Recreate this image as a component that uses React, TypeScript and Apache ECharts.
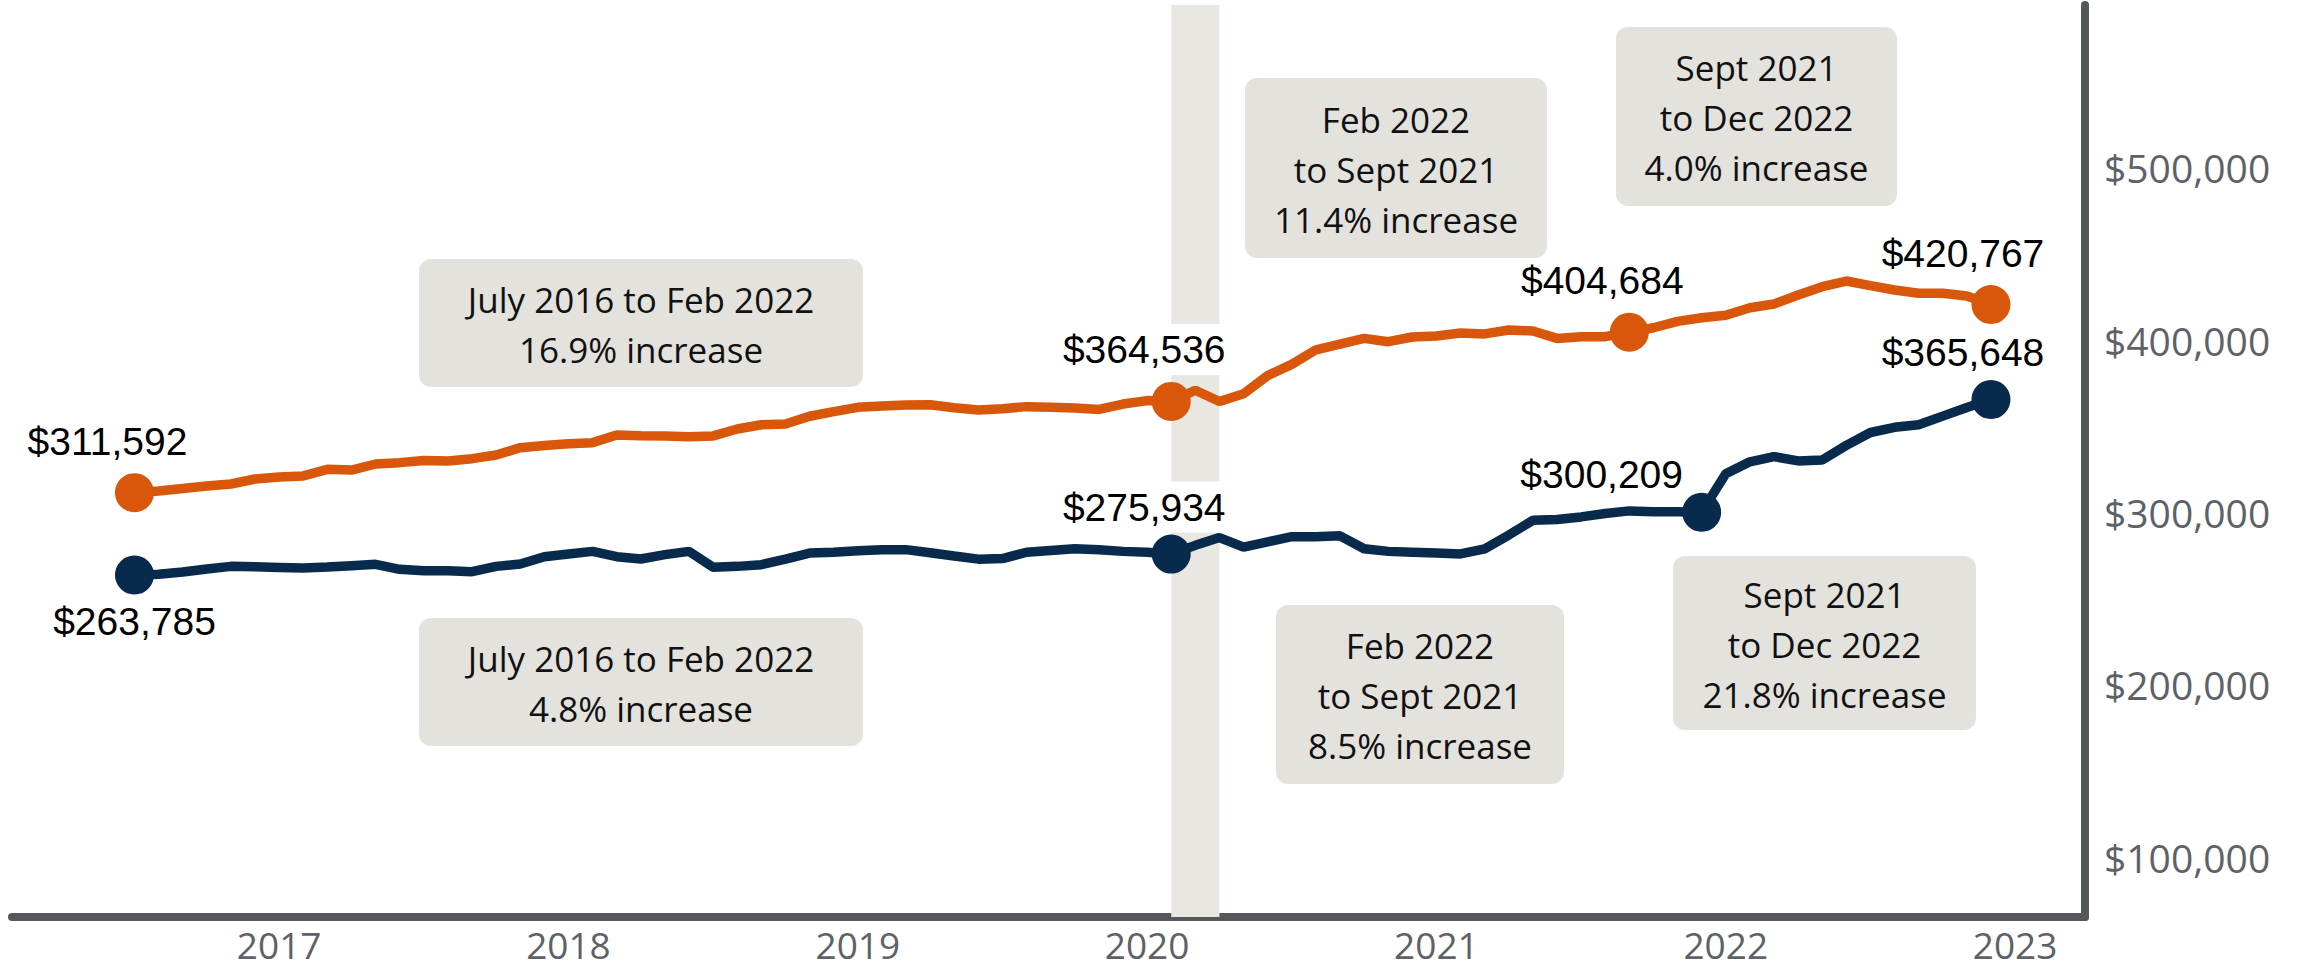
import React, { useEffect, useRef } from "react";
import * as echarts from "echarts";

// Months counted from Jan 2016 (0). First observation: July 2016.
const START_MONTH = 6;

const orangeValues = [
  311592, 312500, 314000, 315400, 316600, 319500, 320700, 321300, 325100, 324700,
  328200, 329000, 330300, 329900, 331300, 333400, 337700, 339000, 340000, 340600,
  345000, 344600, 344400, 344000, 344500, 348500, 351000, 351400, 355900, 358600,
  361100, 361900, 362400, 362600, 360900, 359500, 360300, 361500, 361100, 360700,
  359900, 363000, 365000, 364536, 371000, 364500, 369000, 379500, 386000, 394500,
  397800, 401100, 399200, 401900, 402500, 404200, 403700, 406000, 405400, 401100,
  402100, 402100, 404684, 407300, 411000, 413100, 414500, 418900, 421100, 426300,
  431100, 434400, 431700, 429200, 427300, 427300, 425700, 420767,
];

const navyValues = [
  263785, 264200, 265500, 267300, 268800, 268600, 268200, 267800, 268400, 269200,
  270000, 267100, 266300, 266300, 265700, 268800, 270200, 274400, 276000, 277500,
  274400, 273100, 275600, 277500, 268300, 268800, 269800, 273000, 276500, 277000,
  277800, 278500, 278500, 276700, 274800, 273000, 273300, 277000, 278000, 279000,
  278500, 277500, 277000, 275934, 281000, 285500, 280000, 283000, 286000, 286000,
  286500, 279000, 277500, 277000, 276500, 276000, 279000, 287000, 295500, 296000,
  297500, 299500, 301000, 300500, 300500, 300209, 322500, 329500, 332500, 330000,
  330500, 339000, 346500, 349500, 351000, 356000, 361000, 365648,
];

// indices of the highlighted observations
const orangeMarked = [0, 43, 62, 77];
const navyMarked = [0, 43, 65, 77];

const yearTicks = [2017, 2018, 2019, 2020, 2021, 2022, 2023];
const priceTicks = [100000, 200000, 300000, 400000, 500000];
const shadedMonths = [49, 51]; // Feb 2020 to Apr 2020

const annotationTexts = [
  "July 2016 to Feb 2022\n16.9% increase",
  "July 2016 to Feb 2022\n4.8% increase",
  "Feb 2022\nto Sept 2021\n11.4% increase",
  "Sept 2021\nto Dec 2022\n4.0% increase",
  "Feb 2022\nto Sept 2021\n8.5% increase",
  "Sept 2021\nto Dec 2022\n21.8% increase",
];

// layout (pixels) of the annotation boxes: [x, y, width, height]
const annotationBoxes = [
  [419, 259, 444, 128],
  [419, 618, 444, 128],
  [1245, 78, 302, 180],
  [1616, 27, 281, 179],
  [1276, 605, 288, 179],
  [1673, 556, 303, 174],
];

// label offsets relative to the dot centre
const orangeLabelOffsets = [[-27, -51], [-27, -52], [-27, -52], [-28, -51]];
const navyLabelOffsets = [[0, 46], [-27, -47], [-100, -38], [-28, -47]];

const ORANGE = "#d8570b";
const NAVY = "#082b4d";
const AXIS = "#54575c";
const TICK = "#5e6167";

const fmtMoney = (v: number) => "$" + Math.round(v).toLocaleString("en-US");

function toPairs(values: number[]) {
  return values.map((v, i) => [START_MONTH + i, v]);
}

function markedPoints(values: number[], idx: number[], offsets: number[][]) {
  return idx.map((i, j) => {
    const isBand = START_MONTH + i === shadedMonths[0];
    return {
      value: [START_MONTH + i, values[i]],
      label: {
        offset: offsets[j],
        ...(isBand ? { backgroundColor: "#ffffff", padding: [6, 3] } : {}),
      },
    };
  });
}

export default function App() {
  const ref = useRef<HTMLDivElement>(null);

  useEffect(() => {
    if (!ref.current) return;
    const chart = echarts.init(ref.current, undefined, { renderer: "svg" });

    const pointLabel = {
      show: true,
      position: "inside",
      formatter: (p: any) => fmtMoney(p.value[1]),
      color: "#000",
      fontFamily: "Liberation Sans",
      fontSize: 39,
      align: "center",
      verticalAlign: "middle",
    };

    const graphic: any[] = [];
    annotationBoxes.forEach((b, i) => {
      graphic.push({
        type: "rect",
        shape: { x: b[0], y: b[1], width: b[2], height: b[3], r: 12 },
        style: { fill: "#e3e2dd" },
        z: 1,
      });
      graphic.push({
        type: "text",
        x: b[0] + b[2] / 2,
        y: b[1] + b[3] / 2 + 1,
        style: {
          text: annotationTexts[i],
          fill: "#111",
          fontFamily: "Open Sans",
          fontSize: 35,
          lineHeight: 50,
          align: "center",
          verticalAlign: "middle",
        },
        z: 2,
      });
    });

    chart.setOption({
      animation: false,
      grid: { left: 12, right: 233, top: 5, bottom: 53 },
      xAxis: {
        type: "value",
        min: 0.92,
        max: 86.9,
        splitLine: { show: false },
        axisTick: { show: false },
        axisLine: { show: true, onZero: false, lineStyle: { color: AXIS, width: 8 } },
        axisLabel: {
          customValues: yearTicks.map((y) => (y - 2016) * 12),
          formatter: (v: number) => String(2016 + Math.round(v / 12)),
          color: TICK,
          fontFamily: "Open Sans",
          fontSize: 37,
          lineHeight: 38,
          margin: 8,
        },
      },
      yAxis: {
        type: "value",
        position: "right",
        min: 65300,
        max: 594600,
        splitLine: { show: false },
        axisTick: { show: false },
        axisLine: { show: true, lineStyle: { color: AXIS, width: 8 } },
        axisLabel: {
          customValues: priceTicks,
          formatter: (v: number) => fmtMoney(v),
          color: TICK,
          fontFamily: "Open Sans",
          fontSize: 39,
          margin: 19,
        },
      },
      graphic,
      series: [
        {
          type: "line",
          name: "shade",
          data: [],
          z: 1,
          markArea: {
            silent: true,
            itemStyle: { color: "#e8e7e2" },
            data: [[{ xAxis: shadedMonths[0] }, { xAxis: shadedMonths[1] }]],
          },
        },
        {
          type: "line",
          name: "Orange",
          data: toPairs(orangeValues),
          showSymbol: false,
          lineStyle: { color: ORANGE, width: 9.5 },
          itemStyle: { color: ORANGE },
          z: 2,
        },
        {
          type: "line",
          name: "Navy",
          data: toPairs(navyValues),
          showSymbol: false,
          lineStyle: { color: NAVY, width: 9.5 },
          itemStyle: { color: NAVY },
          z: 2,
        },
        {
          type: "scatter",
          name: "Orange marks",
          data: markedPoints(orangeValues, orangeMarked, orangeLabelOffsets),
          symbolSize: 39,
          itemStyle: { color: ORANGE, opacity: 1 },
          label: pointLabel,
          z: 3,
        },
        {
          type: "scatter",
          name: "Navy marks",
          data: markedPoints(navyValues, navyMarked, navyLabelOffsets),
          symbolSize: 39,
          itemStyle: { color: NAVY, opacity: 1 },
          label: pointLabel,
          z: 3,
        },
      ],
    });

    return () => chart.dispose();
  }, []);

  return (
    <div
      ref={ref}
      style={{ position: "absolute", left: 0, top: 0, width: 2318, height: 970 }}
    />
  );
}
